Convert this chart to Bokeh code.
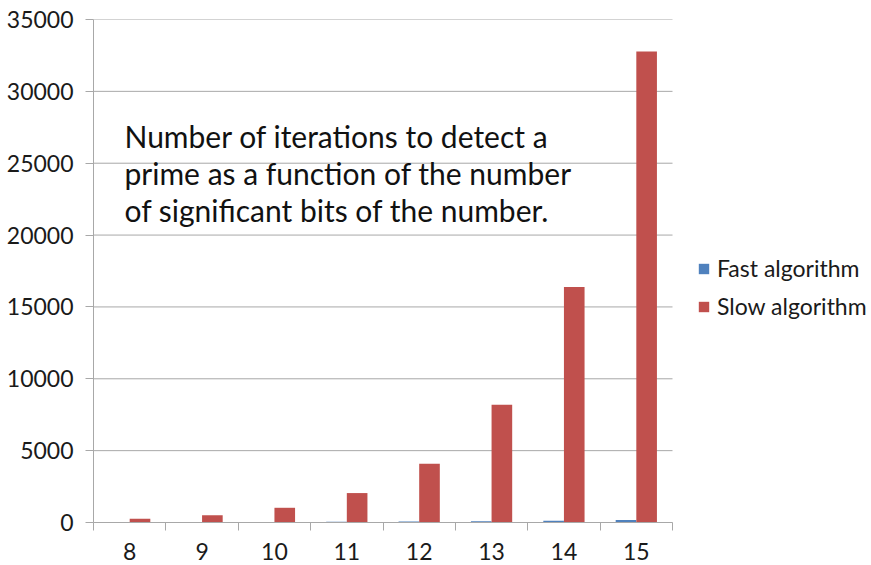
from bokeh.plotting import figure
from bokeh.models import (ColumnDataSource, FixedTicker, Range1d, Label, Legend, LegendItem)
from bokeh.embed import file_html
from bokeh.resources import INLINE

bits = ["8", "9", "10", "11", "12", "13", "14", "15"]
fast = [16, 23, 32, 45, 64, 91, 128, 181]
slow = [256, 512, 1024, 2048, 4096, 8192, 16384, 32768]
y_ticks = [0, 5000, 10000, 15000, 20000, 25000, 30000, 35000]

FONT = "Lato"
BLUE = "#4F81BD"
RED = "#C0504D"
GRID = "#A8A8A8"

W, H = 871, 565
LEFT, TOP, BOTTOM = 93, 19, 43
PLOT_W = 579  # width of the bar area in pixels

n = len(bits)
centers = [i + 0.5 for i in range(n)]
bw = 0.285
src = ColumnDataSource(dict(
    xf=[c - bw / 2 for c in centers],
    xs=[c + bw / 2 for c in centers],
    fast=fast, slow=slow))

x_end = n * (W - LEFT) / PLOT_W
p = figure(width=W, height=H, output_backend="svg", toolbar_location=None,
           x_range=Range1d(0, x_end), y_range=Range1d(0, y_ticks[-1]),
           min_border_left=LEFT, min_border_right=0, min_border_top=TOP,
           min_border_bottom=BOTTOM)
p.outline_line_color = None
p.background_fill_color = "white"
p.xgrid.grid_line_color = None
p.ygrid.grid_line_color = None

# horizontal gridlines limited to the category area
p.segment(x0=[0] * len(y_ticks), x1=[n] * len(y_ticks), y0=y_ticks, y1=y_ticks,
          line_color=GRID, line_width=1)

rf = p.vbar(x="xf", top="fast", width=bw, source=src, fill_color=BLUE, line_color=None)
rs = p.vbar(x="xs", top="slow", width=bw, source=src, fill_color=RED, line_color=None)

# x axis
p.xaxis.bounds = (0, n)
p.xaxis.ticker = FixedTicker(ticks=centers, minor_ticks=list(range(n + 1)))
p.xaxis.major_label_overrides = {c: b for c, b in zip(centers, bits)}
p.xaxis.major_tick_line_color = None
p.xaxis.minor_tick_out = 8
p.xaxis.minor_tick_in = 0
p.xaxis.minor_tick_line_color = GRID
p.xaxis.axis_line_color = GRID
p.xaxis.major_label_text_font = FONT
p.xaxis.major_label_text_font_size = "23px"
p.xaxis.major_label_text_color = "#1a1a1a"
p.xaxis.major_label_standoff = 12

# y axis
p.yaxis.ticker = FixedTicker(ticks=y_ticks)
p.yaxis.minor_tick_line_color = None
p.yaxis.major_tick_out = 8
p.yaxis.major_tick_in = 0
p.yaxis.major_tick_line_color = GRID
p.yaxis.axis_line_color = GRID
p.yaxis.major_label_text_font = FONT
p.yaxis.major_label_text_font_size = "23px"
p.yaxis.major_label_text_color = "#1a1a1a"
p.yaxis.major_label_standoff = 12

note = Label(x=31, y=405, x_units="screen", y_units="screen",
             text="Number of iterations to detect a\nprime as a function of the number\nof significant bits of the number.",
             text_font=FONT, text_font_size="30px", text_color="#111111",
             text_baseline="top", text_line_height=1.04)
p.add_layout(note)

legend = Legend(items=[LegendItem(label="Fast algorithm", renderers=[rf]),
                       LegendItem(label="Slow algorithm", renderers=[rs])],
                location=(604, 202), border_line_color=None,
                background_fill_alpha=0,
                label_text_font=FONT, label_text_font_size="23px",
                label_text_color="#1a1a1a",
                glyph_width=13, glyph_height=13, spacing=10, label_standoff=7,
                padding=0, margin=0)
p.add_layout(legend, "center")

open("out.html", "w").write(file_html(p, INLINE))
